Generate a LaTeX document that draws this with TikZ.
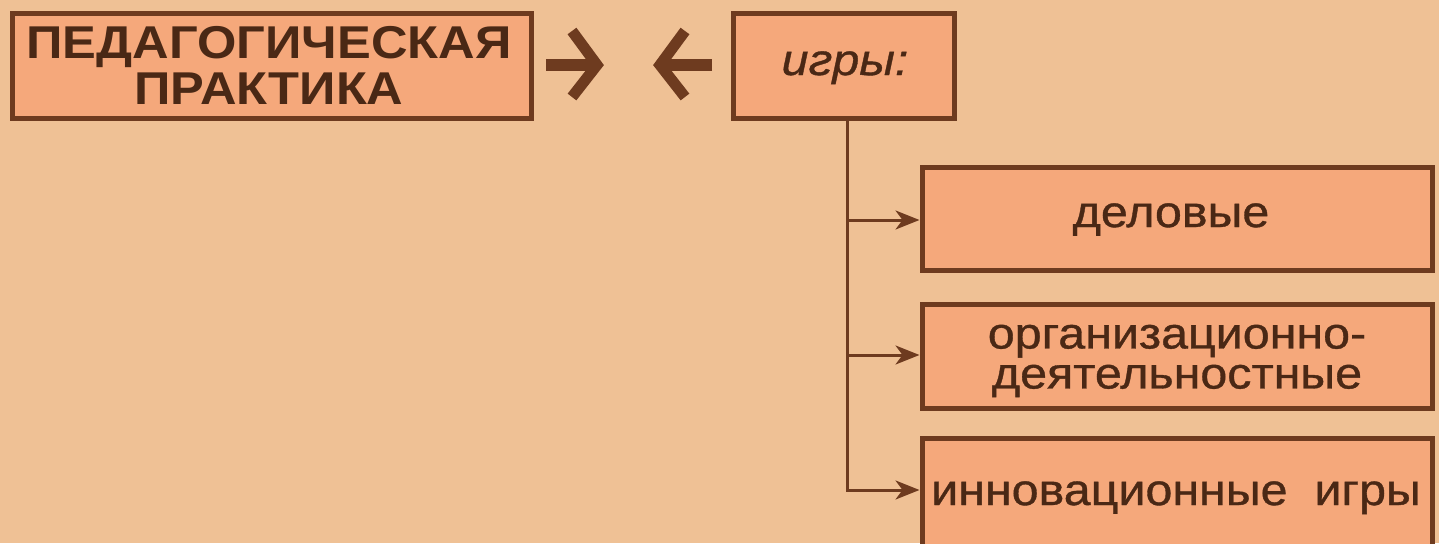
\documentclass[tikz,border=0pt]{standalone}
\usepackage{fontspec}
\setmainfont[FakeStretch=1.1]{Liberation Sans}
\newfontfamily\medfont[FakeStretch=1.1,FakeBold=0.8]{Liberation Sans}
\newfontfamily\titlefont[FakeStretch=1.1]{Liberation Sans}
\usetikzlibrary{arrows.meta}
\definecolor{bgc}{HTML}{EFC195}
\definecolor{boxc}{HTML}{F5A87B}
\definecolor{linec}{HTML}{6E3B1F}
\definecolor{txtc}{HTML}{4A2815}
\begin{document}
\begin{tikzpicture}[x=1pt,y=-1pt,
  box/.style={draw=linec, fill=boxc, line width=5pt, inner sep=0pt},
  lbl/.style={text=txtc, inner sep=0pt, align=center, font=\fontsize{44}{40}\selectfont\medfont},
  conn/.style={draw=linec, line width=3pt},
  branch/.style={conn, -{Stealth[length=24pt,width=19pt,inset=7pt]}},
  bigarrow/.style={draw=linec, line width=11pt, line join=miter},
]
\useasboundingbox (0,0) rectangle (1439,543);
\clip (0,0) rectangle (1439,543);
\fill[bgc] (0,0) rectangle (1439,543);

\node[box, minimum width=519pt, minimum height=104pt] (ped) at (271.5,66) {};
\node[box, minimum width=221pt, minimum height=104pt] (igry) at (843.5,66) {};
\node[box, minimum width=510pt, minimum height=103pt] (del) at (1177,218.5) {};
\node[box, minimum width=510pt, minimum height=104pt] (org) at (1177,356) {};
\node[box, minimum width=510pt, minimum height=110pt] (inn) at (1177,493) {};

\node[lbl, font=\fontsize{46}{46}\selectfont\titlefont\bfseries] (pedt) at (269,65) {ПЕДАГОГИЧЕСКАЯ\\ПРАКТИКА};
\node[lbl, font=\fontsize{44}{46}\selectfont\medfont\itshape, anchor=base] (igryt) at (845,75) {игры:};
\node[lbl, anchor=base] (delt) at (1171,227) {деловые};
\node[lbl] (orgt) at (1177,361) {организационно-\\деятельностные};
\node[lbl, anchor=base west] (innt) at (931,505) {инновационные\ \ игры};

% big arrows between the two top boxes
\coordinate (a1s) at (546,65);
\coordinate (a1t) at (597,65);
\draw[bigarrow] (a1s) -- (a1t);
\draw[bigarrow] ([xshift=-25pt,yshift=-32pt]a1t) -- (a1t) -- ([xshift=-25pt,yshift=34pt]a1t);
\coordinate (a2s) at (712,65);
\coordinate (a2t) at (660,65);
\draw[bigarrow] (a2s) -- (a2t);
\draw[bigarrow] ([xshift=25pt,yshift=-32pt]a2t) -- (a2t) -- ([xshift=25pt,yshift=34pt]a2t);

% tree connectors
\coordinate (trunk) at (847,120);
\coordinate (b1) at (847,220);
\coordinate (b2) at (847,355);
\draw[branch] (trunk) |- (inn.west |- 0,490);
\draw[branch] (b1) -- (del.west |- b1);
\draw[branch] (b2) -- (org.west |- b2);
\end{tikzpicture}
\end{document}
